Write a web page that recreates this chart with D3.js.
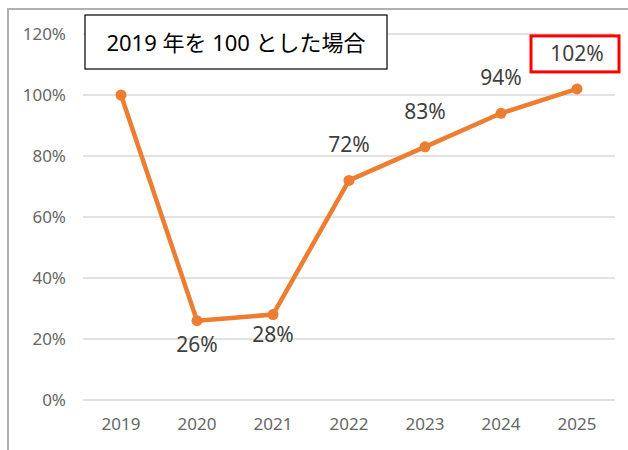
<!DOCTYPE html>
<html><head><meta charset="utf-8">
<script src="https://cdn.jsdelivr.net/npm/d3@7/dist/d3.min.js"></script>
<style>body{margin:0;background:#fff}svg{display:block}</style>
</head><body>
<svg id="c" width="628" height="450"></svg>
<script>
const years = ["2019","2020","2021","2022","2023","2024","2025"];
const values = [100, 26, 28, 72, 83, 94, 102];
const labels = ["", "26%", "28%", "72%", "83%", "94%", "102%"];
const yTicks = [0, 20, 40, 60, 80, 100, 120];
const titleText = "2019 年を 100 とした場合";

(function () {
const svg = d3.select("#c");
const mLeft = 83, mRight = 615, mTop = 34, mBottom = 400;

// outer frame
svg.append("rect").attr("x", 8).attr("y", 9).attr("width", 640).attr("height", 460)
  .attr("fill", "none").attr("stroke", "#b0b0b0").attr("stroke-width", 2);

const x = d3.scaleBand().domain(years).range([mLeft, mRight]);
const y = d3.scaleLinear().domain([0, 120]).range([mBottom, mTop]);

// gridlines
svg.append("g").selectAll("line").data(yTicks).join("line")
  .attr("x1", mLeft).attr("x2", mRight)
  .attr("y1", d => y(d)).attr("y2", d => y(d))
  .attr("stroke", "#d9d9d9").attr("stroke-width", 1.5);

const font = "'Noto Sans', 'Noto Sans CJK JP', sans-serif";

// y axis
const yAxis = d3.axisLeft(y).tickValues(yTicks).tickFormat(d => d + "%").tickSize(0).tickPadding(17);
const gy = svg.append("g").attr("transform", `translate(${mLeft},0)`).call(yAxis);
gy.select(".domain").remove();
gy.selectAll("text").attr("fill", "#666").style("font-size", "17px").style("font-family", font);

// x axis
const xAxis = d3.axisBottom(x).tickSize(0).tickPadding(18);
const gx = svg.append("g").attr("transform", `translate(0,${mBottom})`).call(xAxis);
gx.select(".domain").remove();
gx.selectAll("text").attr("fill", "#666").style("font-size", "17px").style("font-family", font);

const cx = d => x(d) + x.bandwidth() / 2;
const data = years.map((yr, i) => ({yr, v: values[i], l: labels[i]}));

// line
svg.append("path").datum(data)
  .attr("d", d3.line().x(d => cx(d.yr)).y(d => y(d.v)))
  .attr("fill", "none").attr("stroke", "#ED7D31").attr("stroke-width", 4.5)
  .attr("stroke-linejoin", "round");

svg.append("g").selectAll("circle").data(data).join("circle")
  .attr("cx", d => cx(d.yr)).attr("cy", d => y(d.v)).attr("r", 5.5)
  .attr("fill", "#ED7D31");

// data labels
const below = {"2020": 31, "2021": 27};
svg.append("g").selectAll("text").data(data.filter(d => d.l)).join("text")
  .attr("x", d => cx(d.yr))
  .attr("y", d => y(d.v) + (below[d.yr] !== undefined ? below[d.yr] : -28))
  .attr("text-anchor", "middle")
  .attr("fill", "#404040").style("font-size", "21px").style("font-family", font)
  .text(d => d.l);

// red highlight box around last label
const last = data[data.length - 1];
svg.append("rect").attr("x", cx(last.yr) - 46).attr("y", y(last.v) - 53)
  .attr("width", 88).attr("height", 36)
  .attr("fill", "none").attr("stroke", "#ff0000").attr("stroke-width", 3);

// title box
svg.append("rect").attr("x", 85).attr("y", 15).attr("width", 302).attr("height", 54)
  .attr("fill", "#fff").attr("stroke", "#000").attr("stroke-width", 1.2);
svg.append("text").attr("x", 236).attr("y", 51).attr("text-anchor", "middle")
  .attr("fill", "#000").style("font-size", "22px").style("font-family", font)
  .text(titleText);
})();
</script>
</body></html>
